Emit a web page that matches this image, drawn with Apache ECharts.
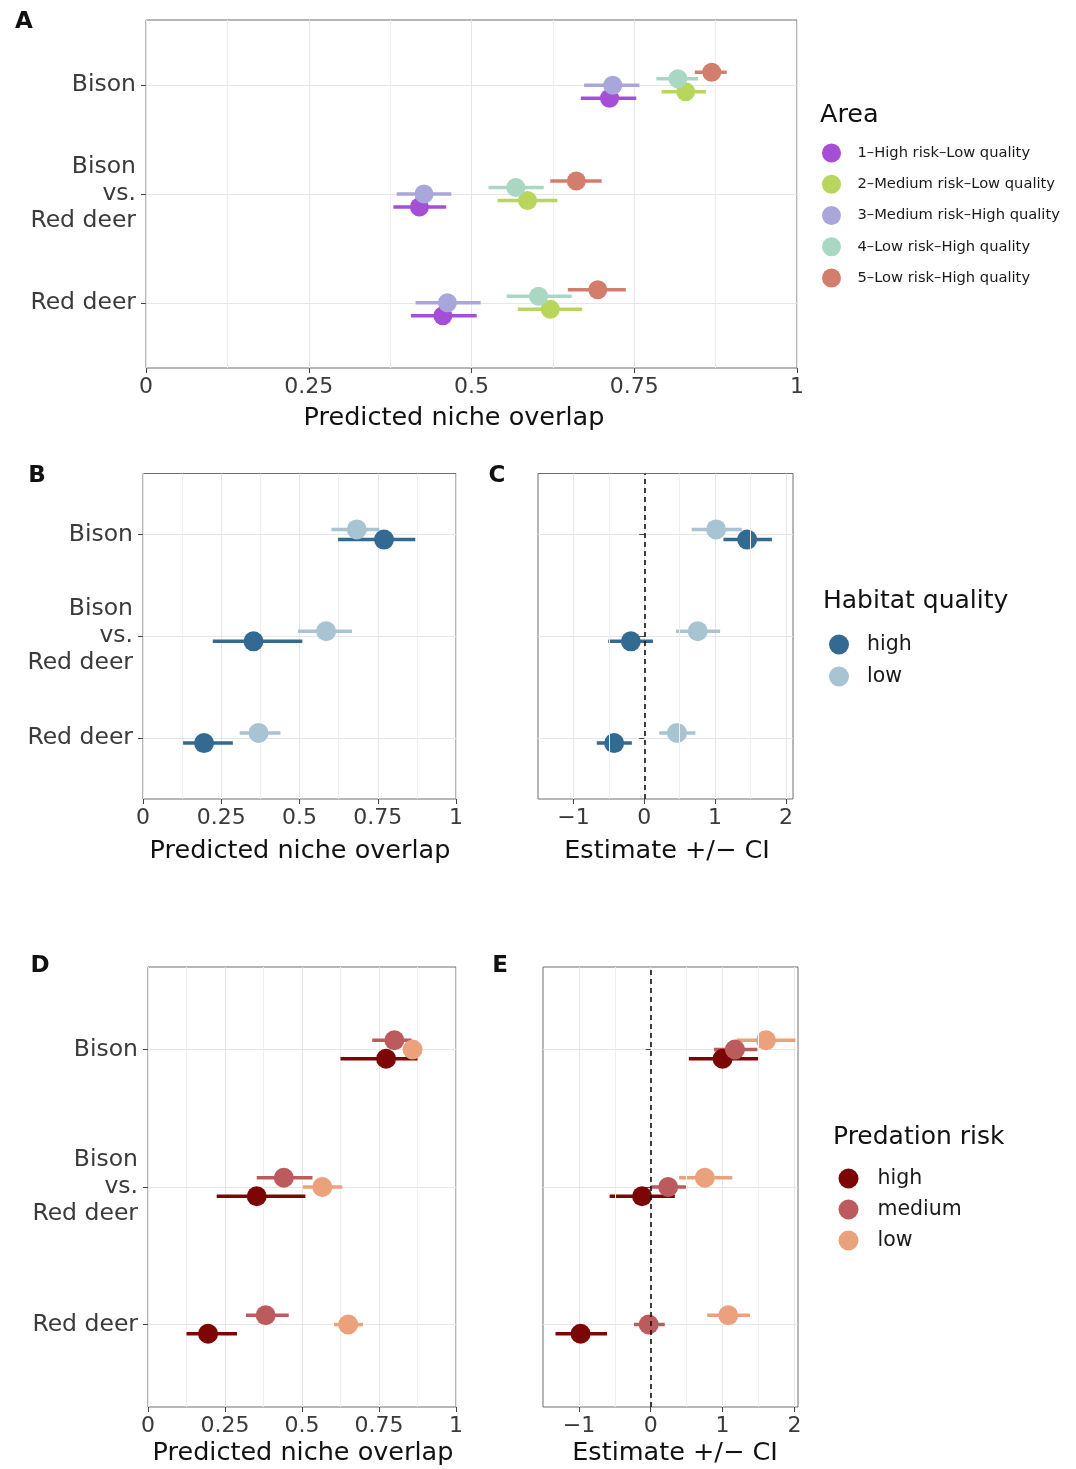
<!DOCTYPE html>
<html><head><meta charset="utf-8">
<script src="https://cdn.jsdelivr.net/npm/echarts@6/dist/echarts.min.js"></script>
<style>html,body{margin:0;padding:0;background:#fff}#c{width:1076px;height:1469px}</style>
</head><body><div id="c"></div>
<script>
// ---------------- data ----------------
const categories = ['Bison', 'Bison\nvs.\nRed deer', 'Red deer'];   // top to bottom
const overlapTicks = [0, 0.25, 0.5, 0.75, 1];
const estimateTicks = [-1, 0, 1, 2];
const estimateMinorTicks = [-0.5, 0.5, 1.5];

const areaLabels = ['1–High risk–Low quality', '2–Medium risk–Low quality', '3–Medium risk–High quality', '4–Low risk–High quality', '5–Low risk–High quality'];
const areaEst = [[0.712, 0.420, 0.456], [0.829, 0.586, 0.621], [0.717, 0.427, 0.463], [0.817, 0.568, 0.603], [0.869, 0.661, 0.694]];
const areaLo  = [[0.668, 0.380, 0.407], [0.792, 0.540, 0.571], [0.673, 0.385, 0.414], [0.784, 0.526, 0.554], [0.843, 0.621, 0.648]];
const areaHi  = [[0.753, 0.461, 0.508], [0.860, 0.632, 0.670], [0.758, 0.469, 0.514], [0.848, 0.611, 0.654], [0.892, 0.700, 0.737]];

const habitatLevels = ['high', 'low'];
const habitatOverlapEst = [[0.770, 0.353, 0.195], [0.683, 0.585, 0.369]];
const habitatOverlapLo  = [[0.623, 0.223, 0.128], [0.602, 0.495, 0.309]];
const habitatOverlapHi  = [[0.870, 0.509, 0.287], [0.755, 0.668, 0.439]];
const habitatCoefEst = [[1.453, -0.189, -0.425], [1.014, 0.755, 0.462]];
const habitatCoefLo  = [[1.118, -0.509, -0.670], [0.670, 0.448, 0.212]];
const habitatCoefHi  = [[1.802, 0.123, -0.175], [1.377, 1.071, 0.722]];

const riskLevels = ['high', 'medium', 'low'];
const riskOverlapEst = [[0.773, 0.353, 0.195], [0.800, 0.441, 0.382], [0.859, 0.566, 0.650]];
const riskOverlapLo  = [[0.625, 0.223, 0.125], [0.728, 0.353, 0.318], [0.838, 0.503, 0.604]];
const riskOverlapHi  = [[0.875, 0.511, 0.289], [0.856, 0.534, 0.457], [0.878, 0.631, 0.698]];
const riskCoefEst = [[1.000, -0.121, -0.977], [1.172, 0.242, -0.028], [1.605, 0.753, 1.079]];
const riskCoefLo  = [[0.530, -0.572, -1.326], [0.879, 0.000, -0.233], [1.195, 0.395, 0.786]];
const riskCoefHi  = [[1.498, 0.335, -0.609], [1.484, 0.507, 0.195], [2.014, 1.135, 1.381]];

// ---------------- styles ----------------
const FONT = "'DejaVu Sans', sans-serif";
const areaColors = ['#A64ED6', '#B9D65C', '#A9A6DB', '#A9D7C4', '#D37D6C'];
const habitatColors = ['#336A92', '#A8C4D2'];
const riskColors = ['#7C0606', '#BB5B5D', '#EBA17C'];
const GRID_COLOR = '#E6E6E6';
const MINOR_COLOR = '#EEEEEE';
const TICK_COLOR = '#444';
const LABEL_COLOR = '#3a3a3a';

const grids = [
  {left: 146, top: 20, width: 651, height: 348},
  {left: 143, top: 473.5, width: 313, height: 325.5},
  {left: 538, top: 473.5, width: 255, height: 325.5},
  {left: 148, top: 967, width: 308, height: 440},
  {left: 543, top: 967, width: 255, height: 440}
].map(g => Object.assign(g, {show: true, borderColor: '#6e6e6e', borderWidth: 1, backgroundColor: 'transparent', containLabel: false}));

const catPos = categories.map((c, i) => categories.length - i);

function yAxis(idx, showLabels) {
  return {
    gridIndex: idx, type: 'value', min: 0.4, max: 3.6,
    axisLine: {show: false},
    axisTick: {show: true, customValues: catPos, length: 5, lineStyle: {color: TICK_COLOR, width: 1}},
    axisLabel: {show: showLabels, customValues: catPos, margin: 10, fontSize: 23.5, lineHeight: 27,
      color: LABEL_COLOR, fontFamily: FONT, align: 'right',
      formatter: v => categories[categories.length - Math.round(v)]},
    splitLine: {show: true, lineStyle: {color: GRID_COLOR, width: 1}}
  };
}
function xOverlap(idx) {
  return {
    gridIndex: idx, type: 'value', min: 0, max: 1, interval: 0.25,
    axisLine: {show: false},
    axisTick: {show: true, length: 5, lineStyle: {color: TICK_COLOR, width: 1}},
    axisLabel: {margin: 8, fontSize: 22, color: LABEL_COLOR, fontFamily: FONT,
      customValues: overlapTicks, formatter: v => String(+v.toFixed(2))},
    splitLine: {show: true, lineStyle: {color: GRID_COLOR, width: 1}},
    minorTick: {show: false, splitNumber: 2},
    minorSplitLine: {show: true, lineStyle: {color: MINOR_COLOR, width: 1}}
  };
}
function xEstimate(idx, max) {
  return {
    gridIndex: idx, type: 'value', min: -1.5, max: max,
    axisLine: {show: false},
    axisTick: {show: true, customValues: estimateTicks, length: 5, lineStyle: {color: TICK_COLOR, width: 1}},
    axisLabel: {margin: 8, fontSize: 22, color: LABEL_COLOR, fontFamily: FONT,
      customValues: estimateTicks, formatter: v => String(v).replace('-', '−')},
    splitLine: {show: true, lineStyle: {color: GRID_COLOR, width: 1}}
  };
}

function pointRange(offset, color, size, lw) {
  return function (params, api) {
    const y = api.value(3) + offset;
    const a = api.coord([api.value(1), y]);
    const b = api.coord([api.value(2), y]);
    const c = api.coord([api.value(0), y]);
    return {type: 'group', children: [
      {type: 'line', z2: 5, shape: {x1: a[0], y1: a[1], x2: b[0], y2: b[1]}, style: {stroke: color, lineWidth: lw}},
      {type: 'circle', z2: 10, shape: {cx: c[0], cy: c[1], r: size / 2}, style: {fill: color}}
    ]};
  };
}

const zeroMarkLine = {
  silent: true, symbol: ['none', 'none'], label: {show: false}, animation: false,
  data: estimateMinorTicks.map(v => ({xAxis: v, lineStyle: {color: MINOR_COLOR, width: 1, type: 'solid'}}))
    .concat([{xAxis: 0, lineStyle: {color: '#111', width: 1.6, type: [5, 4]}}])
};

const series = [];
function addPanel(gridIdx, prefix, names, est, lo, hi, colors, ranks, step, size, markLine) {
  names.forEach((n, g) => {
    const off = (ranks[g] - (names.length - 1) / 2) * step;
    const s = {
      type: 'custom', name: prefix + n, xAxisIndex: gridIdx, yAxisIndex: gridIdx,
      renderItem: pointRange(off, colors[g], size, 3.5),
      itemStyle: {color: colors[g]},
      encode: {x: [0, 1, 2], y: 3},
      silent: true,
      data: categories.map((c, i) => [est[g][i], lo[g][i], hi[g][i], catPos[i]])
    };
    if (g === 0 && markLine) s.markLine = markLine;
    series.push(s);
  });
}
addPanel(0, '', areaLabels, areaEst, areaLo, areaHi, areaColors, [0, 1, 2, 3, 4], 0.06, 19);
addPanel(1, 'hq|', habitatLevels, habitatOverlapEst, habitatOverlapLo, habitatOverlapHi, habitatColors, [0, 1], 0.1, 20);
addPanel(2, 'hq|', habitatLevels, habitatCoefEst, habitatCoefLo, habitatCoefHi, habitatColors, [0, 1], 0.1, 20, zeroMarkLine);
addPanel(3, 'pr|', riskLevels, riskOverlapEst, riskOverlapLo, riskOverlapHi, riskColors, [0, 2, 1], 0.067, 20);
addPanel(4, 'pr|', riskLevels, riskCoefEst, riskCoefLo, riskCoefHi, riskColors, [0, 1, 2], 0.067, 20, zeroMarkLine);

const legendFmt = name => { const k = name.indexOf('|'); return k >= 0 ? name.slice(k + 1) : name; };
function legend(names, left, top, w, h, gap, fs) {
  return {data: names, orient: 'vertical', left: left, top: top, itemWidth: w, itemHeight: h, itemGap: gap,
    icon: 'circle', padding: 0, selectedMode: false, formatter: legendFmt,
    textStyle: {fontSize: fs, lineHeight: h, fontFamily: FONT, color: '#1a1a1a'}};
}

function txt(t, x, y, size, bold, align) {
  return {type: 'text', x: x, y: y, silent: true, style: {text: t, fontSize: size, fontFamily: FONT,
    fontWeight: bold ? 'bold' : 'normal', fill: '#111',
    align: align || 'center', textAlign: align || 'center', verticalAlign: 'middle', textVerticalAlign: 'middle'}};
}

const graphics = [
  txt('A', 24, 22, 23, true), txt('B', 37, 476, 23, true), txt('C', 497, 476, 23, true),
  txt('D', 40, 966, 23, true), txt('E', 500, 966, 23, true),
  txt('Predicted niche overlap', 454, 418, 25.5), txt('Predicted niche overlap', 300, 851, 25.5),
  txt('Estimate +/− CI', 667, 851, 25.5), txt('Predicted niche overlap', 303, 1453, 25.5),
  txt('Estimate +/− CI', 675, 1453, 25.5),
  txt('Area', 820, 115, 25.5, false, 'left'), txt('Habitat quality', 823, 601, 25, false, 'left'),
  txt('Predation risk', 833, 1137, 25, false, 'left')
];

const chart = echarts.init(document.getElementById('c'), null, {renderer: 'canvas'});
chart.setOption({
  animation: false,
  backgroundColor: '#fff',
  grid: grids,
  xAxis: [xOverlap(0), xOverlap(1), xEstimate(2, 2.1), xOverlap(3), xEstimate(4, 2.05)],
  yAxis: [yAxis(0, true), yAxis(1, true), yAxis(2, false), yAxis(3, true), yAxis(4, false)],
  legend: [
    legend(areaLabels, 822, 143.5, 42, 19, 12.25, 14.7),
    legend(habitatLevels.map(l => 'hq|' + l), 829, 634, 46, 20, 11, 20.5),
    legend(riskLevels.map(l => 'pr|' + l), 838.5, 1168, 48, 20, 10, 20.5)
  ],
  graphic: graphics,
  series: series
});
</script></body></html>
